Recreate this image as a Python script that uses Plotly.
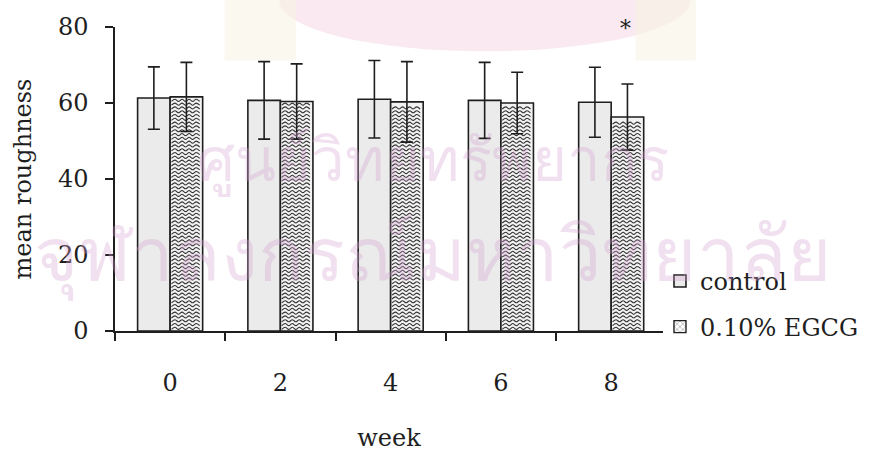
import plotly.graph_objects as go

# Mean roughness per week for the two groups (mean ± SD)
weeks = ["0", "2", "4", "6", "8"]
control_mean = [61.3, 60.7, 61.0, 60.7, 60.2]
control_sd = [8.2, 10.2, 10.2, 10.0, 9.2]
egcg_mean = [61.6, 60.4, 60.3, 60.0, 56.3]
egcg_sd = [9.1, 9.9, 10.6, 8.1, 8.7]
significant = [False, False, False, False, True]

FONT = "DejaVu Serif"
INK = "#1e1e1e"
BAR_W = 0.295

pos = list(range(len(weeks)))
ctrl_x = [p - BAR_W / 2 for p in pos]
egcg_x = [p + BAR_W / 2 for p in pos]


def wavy_hatch(x_left, x_right, top, row_gap=1.0, half_period=0.032, amp=0.28):
    """Rows of wavy lines filling a bar from 0 up to `top`."""
    xs, ys = [], []
    y = row_gap * 0.7
    n = int((x_right - x_left) / half_period)
    while y < top - 0.6:
        for k in range(n + 1):
            xs.append(x_left + k * half_period)
            ys.append(y + (amp if k % 2 else -amp))
        xs.append(None)
        ys.append(None)
        y += row_gap
    return xs, ys


hx, hy = [], []
for p, v in zip(pos, egcg_mean):
    a, b = wavy_hatch(p + 0.012, p + BAR_W - 0.012, v)
    hx += a
    hy += b

fig = go.Figure()

fig.add_trace(go.Bar(
    x=pos, y=control_mean, width=BAR_W, offset=-BAR_W, name="control",
    marker=dict(color="#ebebeb", line=dict(color=INK, width=1.6)),
    legend="legend", showlegend=True,
))
fig.add_trace(go.Bar(
    x=pos, y=egcg_mean, width=BAR_W, offset=0, name="0.10% EGCG",
    marker=dict(color="#f2f2f2", line=dict(color=INK, width=1.6)),
    showlegend=False,
))
# legend swatch for the hatched series
fig.add_trace(go.Bar(
    x=[None], y=[None], name="0.10% EGCG",
    marker=dict(color="white", line=dict(color=INK, width=1.4),
                pattern=dict(shape="x", size=5, fgcolor="#444", solidity=0.3)),
    legend="legend2", showlegend=True,
))
fig.add_trace(go.Scatter(
    x=hx, y=hy, mode="lines", line=dict(color="#333333", width=1.1, shape="spline"),
    showlegend=False, hoverinfo="skip",
))
fig.add_trace(go.Scatter(
    x=ctrl_x + egcg_x, y=control_mean + egcg_mean, mode="markers",
    marker=dict(size=1, color="rgba(0,0,0,0)"),
    error_y=dict(type="data", array=control_sd + egcg_sd, visible=True,
                 color=INK, thickness=1.6, width=6),
    showlegend=False,
))

for p, v, s, sig in zip(pos, egcg_mean, egcg_sd, significant):
    if sig:
        fig.add_annotation(x=p + 0.13, y=79.5, text="*", showarrow=False,
                           font=dict(family=FONT, size=22, color=INK))

# faint library stamp in the background
fig.add_shape(type="circle", xref="paper", yref="paper", layer="below",
              x0=0.30, x1=1.05, y0=0.92, y1=1.25,
              fillcolor="rgba(246,218,230,0.6)", line=dict(width=0))
for x0, x1 in [(0.20, 0.33), (0.95, 1.06)]:
    fig.add_shape(type="rect", xref="paper", yref="paper", layer="below",
                  x0=x0, x1=x1, y0=0.89, y1=1.1,
                  fillcolor="rgba(248,244,228,0.6)", line=dict(width=0))
stamp_font = dict(color="rgba(214,160,205,0.33)")
fig.add_annotation(xref="paper", yref="paper", x=0.58, y=0.56, yanchor="middle",
                   text="ศูนย์วิทยทรัพยากร", showarrow=False,
                   font=dict(size=60, **stamp_font))
fig.add_annotation(xref="paper", yref="paper", x=0.58, y=0.25, yanchor="middle",
                   text="จุฬาลงกรณ์มหาวิทยาลัย", showarrow=False,
                   font=dict(size=76, **stamp_font))

legend_style = dict(xref="paper", yref="paper", x=0.9945, xanchor="left",
                    yanchor="middle", bgcolor="rgba(0,0,0,0)",
                    font=dict(family=FONT, size=24, color=INK))
fig.update_layout(
    width=879, height=455,
    margin=dict(l=115, r=216, t=27, b=124, autoexpand=False),
    paper_bgcolor="white", plot_bgcolor="rgba(0,0,0,0)",
    font=dict(family=FONT, size=24, color=INK),
    barmode="overlay",
    legend=dict(y=0.163, **legend_style),
    legend2=dict(y=0.013, **legend_style),
)
fig.update_xaxes(
    range=[-0.5, 4.47], tickvals=pos, ticktext=weeks, ticks="", automargin=False,
    showline=True, linecolor=INK, linewidth=1.5, showgrid=False, zeroline=False,
    ticklabelstandoff=29,
    minor=dict(tickvals=[p - 0.5 for p in pos], ticks="outside", ticklen=8,
               tickcolor=INK, tickwidth=1.5, showgrid=False),
    title=dict(text="week", standoff=34, font=dict(family=FONT, size=24, color=INK)),
)
fig.update_yaxes(
    range=[0, 80], tickvals=[0, 20, 40, 60, 80], ticks="outside", ticklen=8,
    automargin=False,
    tickcolor=INK, tickwidth=1.5, showline=True, linecolor=INK, linewidth=1.5,
    showgrid=False, zeroline=False, ticklabelstandoff=12,
    title=dict(text="mean roughness", standoff=20, font=dict(family=FONT, size=24, color=INK)),
)

fig.write_html("out.html")
